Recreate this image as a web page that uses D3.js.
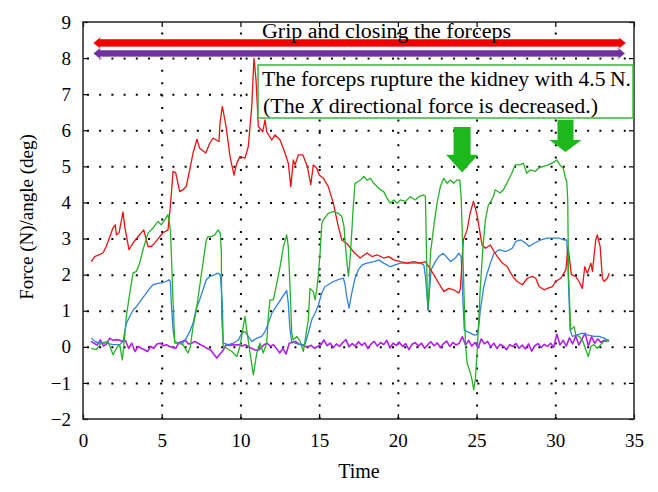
<!DOCTYPE html>
<html><head><meta charset="utf-8">
<script src="https://cdn.jsdelivr.net/npm/d3@7"></script>
<style>html,body{margin:0;padding:0;background:#fff;}</style>
</head><body>
<script>
// ---------- data ----------
const xTicks = [0,5,10,15,20,25,30,35];
const yTicks = [-2,-1,0,1,2,3,4,5,6,7,8,9];

const redT = [0.53,0.74,1.27,1.48,1.91,2.05,2.12,2.29,2.54,2.65,2.92,3.18,3.49,3.86,4.13,4.34,4.56,5.08,5.40,5.46,5.55,5.72,5.89,6.14,6.35,6.56,6.78,6.99,7.24,7.41,7.80,8.05,8.26,8.47,8.64,8.70,8.85,9.09,9.34,9.59,9.77,9.97,10.29,10.50,10.72,10.86,10.99,11.14,11.42,11.56,11.67,11.99,12.20,12.52,12.83,13.04,13.20,13.36,13.47,13.68,13.96,14.25,14.47,14.63,14.85,15.01,15.27,15.58,15.90,16.22,16.44,16.75,17.17,17.60,17.73,18.04,18.36,18.68,19.10,19.42,19.74,20.16,20.58,21.01,21.43,21.75,21.96,22.28,22.60,22.92,23.23,23.55,23.87,23.97,24.16,24.40,24.59,24.80,25.01,25.22,25.35,25.56,25.88,26.11,26.32,26.64,26.96,27.17,27.38,27.59,27.91,28.23,28.55,28.76,28.97,29.29,29.50,29.82,30.03,30.35,30.67,30.81,31.02,31.30,31.51,31.72,31.87,32.04,32.26,32.36,32.57,32.67,32.85,32.99,33.10,33.31,33.42];
const redV = [2.36,2.50,2.60,2.78,3.30,3.38,3.10,3.16,3.74,3.33,2.69,2.88,3.05,3.24,2.78,2.78,2.88,3.16,3.24,3.52,3.89,4.86,4.82,4.30,4.35,4.44,4.90,5.37,5.75,5.50,5.37,5.64,5.78,5.73,5.69,6.20,6.66,6.10,5.27,4.76,5.09,5.27,5.23,5.55,6.66,8.00,7.40,6.10,5.96,6.29,5.96,5.73,5.87,5.73,5.37,5.09,4.44,5.18,5.04,5.32,5.32,5.00,4.49,5.04,4.95,4.76,4.67,4.44,3.98,3.33,2.96,2.87,2.64,2.46,2.50,2.60,2.50,2.55,2.46,2.50,2.41,2.36,2.32,2.36,2.32,2.36,2.22,2.00,1.76,1.53,1.62,1.58,1.49,1.60,2.96,3.24,3.70,4.03,3.70,3.16,2.82,2.73,2.82,2.64,2.50,2.32,2.22,2.04,1.90,1.81,1.72,1.90,1.95,1.90,1.67,1.58,1.62,1.67,1.81,1.90,2.13,2.78,2.00,1.95,1.81,1.62,2.22,2.04,2.32,2.09,2.96,3.10,2.78,1.90,1.81,1.90,2.04];

const greenT = [0.53,0.84,1.16,1.59,1.91,2.12,2.33,2.50,2.65,2.75,2.97,3.18,3.39,3.60,3.81,4.13,4.45,4.66,4.76,4.97,5.19,5.40,5.46,5.56,5.70,5.83,6.04,6.35,6.67,6.82,6.99,7.20,7.41,7.62,7.83,7.94,8.15,8.37,8.58,8.72,8.79,8.81,8.91,9.13,9.45,9.77,9.97,10.18,10.29,10.40,10.61,10.82,11.04,11.25,11.45,11.67,11.77,11.88,12.09,12.31,12.52,12.73,12.83,12.94,13.04,13.15,13.26,13.36,13.58,13.79,14.00,14.10,14.31,14.42,14.63,14.74,14.85,14.95,15.06,15.17,15.27,15.58,15.90,16.22,16.44,16.58,16.65,16.75,16.86,16.96,17.07,17.17,17.28,17.49,17.62,17.83,18.04,18.25,18.47,18.68,18.89,19.10,19.31,19.52,19.74,19.95,20.16,20.48,20.79,21.11,21.33,21.65,21.75,21.81,21.86,21.90,21.96,22.07,22.28,22.49,22.70,22.92,23.13,23.34,23.55,23.76,23.93,24.02,24.19,24.29,24.40,24.61,24.71,24.82,24.92,25.03,25.14,25.24,25.41,25.56,25.73,26.07,26.18,26.49,26.70,26.92,27.24,27.45,27.76,27.97,28.19,28.40,28.72,28.93,29.24,29.56,29.78,29.99,30.09,30.30,30.51,30.62,30.73,30.79,30.84,30.98,31.20,31.30,31.51,31.72,31.94,32.10,32.26,32.46,32.67,32.89,33.10,33.42];
const greenV = [-0.04,-0.08,0.10,0.15,-0.22,-0.04,0.06,-0.36,0.29,0.84,1.49,2.04,2.09,2.32,2.69,3.15,3.29,3.42,3.47,3.38,3.52,3.66,3.52,3.20,1.50,0.10,0.10,0.06,-0.17,0.01,0.56,1.02,1.67,2.32,2.96,3.05,3.05,3.10,3.24,3.15,2.59,0.84,0.01,-0.04,-0.13,-0.27,0.01,0.56,0.84,0.47,-0.17,-0.78,-0.17,0.10,-0.17,0.10,0.84,1.30,1.30,1.76,2.22,2.78,2.92,3.10,2.78,1.67,0.38,0.19,0.29,0.15,-0.13,0.15,0.75,1.62,1.53,1.30,1.58,2.00,2.59,3.42,3.52,3.70,3.75,3.70,3.61,3.33,2.90,2.41,1.95,2.41,3.15,3.90,4.53,4.58,4.62,4.72,4.62,4.67,4.53,4.44,4.35,4.30,4.12,3.98,4.07,3.98,4.07,4.03,4.16,4.07,4.16,4.21,4.16,2.80,1.67,1.02,1.39,2.59,3.33,3.98,4.44,4.67,4.53,4.62,4.53,4.62,4.62,4.16,1.67,0.10,-0.45,-0.73,-0.91,-1.19,-0.91,-0.17,0.75,1.67,2.78,3.52,3.90,4.16,4.35,4.26,4.35,4.53,4.81,5.04,5.04,5.09,4.81,4.90,4.86,4.95,5.00,5.04,5.09,5.14,5.18,5.04,4.95,4.72,4.58,4.07,2.00,0.47,0.56,0.33,0.29,0.19,-0.08,-0.27,0.01,0.06,-0.04,0.06,0.15,0.19];

const blueT = [0.53,0.74,1.06,1.48,1.91,2.33,2.54,2.75,2.97,3.18,3.39,3.70,4.02,4.24,4.45,4.76,5.08,5.29,5.46,5.55,5.61,5.72,5.83,6.04,6.35,6.56,6.78,6.99,7.20,7.41,7.62,7.83,8.05,8.37,8.58,8.72,8.85,8.91,9.23,9.55,9.87,10.08,10.29,10.50,10.72,11.04,11.35,11.56,11.77,11.99,12.20,12.41,12.62,12.83,12.94,13.04,13.15,13.26,13.47,13.79,14.10,14.31,14.53,14.74,14.95,15.17,15.37,15.58,15.90,16.22,16.54,16.65,16.75,16.90,17.07,17.28,17.49,17.73,18.04,18.47,18.79,19.10,19.52,19.84,20.16,20.58,21.01,21.43,21.65,21.75,21.86,21.92,22.03,22.11,22.38,22.60,22.87,23.08,23.34,23.65,23.87,24.02,24.14,24.22,24.40,24.61,24.82,25.03,25.14,25.24,25.46,25.67,25.88,26.11,26.43,26.86,27.27,27.49,27.81,28.13,28.34,28.65,29.08,29.50,29.92,30.24,30.56,30.73,30.81,30.94,31.09,31.40,31.72,32.04,32.46,32.78,33.10,33.42];
const blueV = [0.24,0.15,0.10,0.10,0.06,0.06,0.15,0.65,0.84,1.02,1.11,1.30,1.49,1.62,1.72,1.76,1.78,1.81,1.86,1.81,1.21,0.47,0.15,0.10,0.10,0.24,0.42,0.65,1.07,1.30,1.58,1.86,1.95,2.00,2.04,2.00,1.21,0.10,0.06,0.10,0.19,0.38,0.42,0.29,0.15,0.24,0.29,0.42,0.65,0.93,1.07,1.21,1.35,1.49,1.56,1.21,0.47,0.15,0.10,0.06,0.06,0.38,0.75,0.93,1.16,1.49,1.67,1.72,1.81,1.86,1.90,1.72,1.39,1.07,1.49,1.90,2.13,2.27,2.32,2.36,2.41,2.32,2.22,2.27,2.32,2.32,2.32,2.32,2.27,1.95,1.39,1.02,1.67,2.13,2.36,2.50,2.59,2.50,2.36,2.46,2.59,2.50,1.21,0.47,0.42,0.38,0.33,0.33,0.56,1.02,1.67,2.04,2.32,2.59,2.69,2.64,2.73,2.92,2.96,2.87,2.78,2.87,2.96,3.01,3.01,3.01,2.96,2.96,2.13,0.47,0.29,0.33,0.38,0.33,0.29,0.29,0.24,0.15];

// purple: sampled every 0.2 s starting at 0.5 s
const purpleStart = 0.5, purpleStep = 0.2;
const purpleV = [0.15,0.10,0.05,0.19,0.02,0.08,0.24,0.18,0.20,0.19,0.15,0.17,-0.04,0.10,-0.13,0.01,-0.04,-0.08,-0.13,0.01,-0.04,0.08,0.10,0.03,0.06,0.01,-0.02,-0.04,0.12,0.15,0.19,0.08,0.10,0.15,0.10,0.05,0.01,-0.05,-0.08,-0.20,-0.31,-0.20,-0.10,0.06,0.04,0.06,0.05,0.06,0.02,0.06,0.01,-0.04,-0.08,-0.10,-0.04,0.06,0.10,0.01,0.06,-0.05,-0.17,-0.04,-0.20,0.10,0.12,0.15,0.08,0.06,0.01,0.01,0.04,-0.04,0.01,0.05,0.19,0.03,0.10,-0.02,0.08,0.01,0.12,0.20,0.00,0.09,0.02,0.14,0.04,0.11,-0.05,0.08,0.15,0.02,0.12,0.06,0.18,-0.03,0.10,0.04,0.13,0.01,0.09,-0.08,0.07,0.12,0.02,0.10,-0.04,0.06,0.14,0.03,0.11,-0.02,0.09,0.16,0.01,0.12,0.05,0.10,0.28,0.05,0.18,0.02,0.12,-0.02,0.22,0.08,0.15,0.00,0.10,-0.05,0.07,0.02,-0.08,0.06,0.01,0.09,-0.04,0.05,-0.06,0.08,-0.12,0.03,0.09,-0.02,0.07,0.01,0.10,-0.01,0.35,0.05,0.18,0.02,0.25,0.08,0.30,0.05,0.22,0.38,0.02,0.28,0.10,0.22,0.12,0.18,0.14];

const titleTop = "Grip and closing the forceps";
const noteLine1 = "The forceps rupture the kidney with 4.5\u2009N.";
const noteLine2a = "(The ", noteLine2b = "X", noteLine2c = " directional force is decreased.)";
const xLabel = "Time", yLabel = "Force (N)/angle (deg)";

// ---------- layout ----------
const W = 658, H = 492;
const m = {left: 83, right: 24, top: 22, bottom: 73};
const x = d3.scaleLinear().domain([0,35]).range([m.left, W - m.right]);
const y = d3.scaleLinear().domain([-2,9]).range([H - m.bottom, m.top]);
const serif = "'Liberation Serif','Times New Roman',serif";

const svg = d3.select("body").append("svg").attr("width", W).attr("height", H)
  .style("font-family", serif);

// grid
svg.append("g").attr("transform", `translate(0,${y(-2)})`)
  .call(d3.axisBottom(x).tickValues(xTicks.slice(1,-1)).tickSize(-(y(-2)-y(9))).tickFormat(""))
  .call(g => g.select(".domain").remove())
  .call(g => g.selectAll("line").attr("stroke","#000").attr("stroke-width",2).attr("stroke-dasharray","2,10.4"));
svg.append("g").attr("transform", `translate(${x(0)},0)`)
  .call(d3.axisLeft(y).tickValues(yTicks.slice(1,-1)).tickSize(-(x(35)-x(0))).tickFormat(""))
  .call(g => g.select(".domain").remove())
  .call(g => g.selectAll("line").attr("stroke","#000").attr("stroke-width",2).attr("stroke-dasharray","2,10.2").attr("stroke-dashoffset",-4));

// axes with inward ticks
const tickLen = 5;
function styleAxis(g){
  g.select(".domain").remove();
  g.selectAll("line").attr("stroke","#000").attr("stroke-width",1.2);
  g.selectAll("text").attr("font-family", serif).attr("font-size", 19).attr("fill","#000");
}
svg.append("g").attr("transform", `translate(0,${y(-2)})`)
  .call(d3.axisBottom(x).tickValues(xTicks).tickSizeInner(-tickLen).tickSizeOuter(0).tickPadding(15))
  .call(styleAxis);
svg.append("g").attr("transform", `translate(0,${y(9)})`)
  .call(d3.axisTop(x).tickValues(xTicks).tickSizeInner(-tickLen).tickSizeOuter(0).tickFormat(""))
  .call(styleAxis);
svg.append("g").attr("transform", `translate(${x(0)},0)`)
  .call(d3.axisLeft(y).tickValues(yTicks).tickSizeInner(-tickLen).tickSizeOuter(0).tickPadding(12))
  .call(styleAxis);
svg.append("g").attr("transform", `translate(${x(35)},0)`)
  .call(d3.axisRight(y).tickValues(yTicks).tickSizeInner(-tickLen).tickSizeOuter(0).tickFormat(""))
  .call(styleAxis);

// frame
svg.append("rect").attr("x", x(0)).attr("y", y(9)).attr("width", x(35)-x(0)).attr("height", y(-2)-y(9))
  .attr("fill","none").attr("stroke","#222").attr("stroke-width",1.5);

// data lines
const line = d3.line().x(d => x(d[0])).y(d => y(d[1]));
const plot = svg.append("g");
function drawSeries(t, v, color, w){
  plot.append("path").datum(t.map((tt,i)=>[tt, v[i]]))
    .attr("d", line).attr("fill","none").attr("stroke", color).attr("stroke-width", w).attr("stroke-linejoin","round");
}
drawSeries(purpleV.map((_,i)=>purpleStart + i*purpleStep), purpleV, "#b01ef0", 1.6);
drawSeries(blueT, blueV, "#2f82e0", 1.3);
drawSeries(redT, redV, "#ee1111", 1.3);
drawSeries(greenT, greenV, "#26b226", 1.3);

// top double arrows
function hArrow(t0, t1, v, color, thick){
  const x0 = x(t0), x1 = x(t1), yc = y(v), h = thick/2, hw = 6.5, hl = 8;
  const p = d3.path();
  p.moveTo(x0, yc); p.lineTo(x0+hl, yc-hw); p.lineTo(x0+hl-1, yc-h); p.lineTo(x1-hl+1, yc-h);
  p.lineTo(x1-hl, yc-hw); p.lineTo(x1, yc); p.lineTo(x1-hl, yc+hw); p.lineTo(x1-hl+1, yc+h);
  p.lineTo(x0+hl-1, yc+h); p.lineTo(x0+hl, yc+hw); p.closePath();
  svg.append("path").attr("d", p.toString()).attr("fill", color).attr("stroke","#fff").attr("stroke-width",0.6);
}
hArrow(0.64, 34.5, 8.42, "#f20000", 8);
hArrow(0.64, 34.45, 8.13, "#7030a0", 7);

svg.append("text").attr("x", 262).attr("y", 37.5)
  .attr("font-size", 20).attr("textLength", 249).attr("lengthAdjust","spacingAndGlyphs").text(titleTop);

// annotation box
svg.append("rect").attr("x", x(11.12)).attr("y", y(7.81)).attr("width", x(34.94)-x(11.12)).attr("height", y(6.34)-y(7.81))
  .attr("fill","#fff").attr("stroke","#3cb43c").attr("stroke-width",1.5);
svg.append("text").attr("x", 262).attr("y", 86).attr("font-size", 21)
  .attr("textLength", 369).attr("lengthAdjust","spacingAndGlyphs").text(noteLine1);
const t2 = svg.append("text").attr("x", 263).attr("y", 112.5).attr("font-size", 21)
  .attr("textLength", 335).attr("lengthAdjust","spacingAndGlyphs");
t2.append("tspan").text(noteLine2a);
t2.append("tspan").attr("font-style","italic").text(noteLine2b);
t2.append("tspan").text(noteLine2c);

// green down arrows
function dArrow(t, vTop, vBase, vTip, shaftW, headW){
  const xc = x(t);
  const p = d3.path();
  p.moveTo(xc-shaftW/2, y(vTop)); p.lineTo(xc+shaftW/2, y(vTop)); p.lineTo(xc+shaftW/2, y(vBase));
  p.lineTo(xc+headW/2, y(vBase)); p.lineTo(xc, y(vTip)); p.lineTo(xc-headW/2, y(vBase));
  p.lineTo(xc-shaftW/2, y(vBase)); p.closePath();
  svg.append("path").attr("d", p.toString()).attr("fill", "#1cb81c");
}
dArrow(24.08, 6.09, 5.32, 4.83, 17, 32);
dArrow(30.65, 6.29, 5.73, 5.40, 16, 32);

// axis titles
svg.append("text").attr("x", 359).attr("y", 478).attr("text-anchor","middle")
  .attr("font-size", 20).text(xLabel);
svg.append("text").attr("transform", `translate(33,217) rotate(-90)`)
  .attr("text-anchor","middle").attr("font-size", 19).text(yLabel);
</script>
</body></html>
